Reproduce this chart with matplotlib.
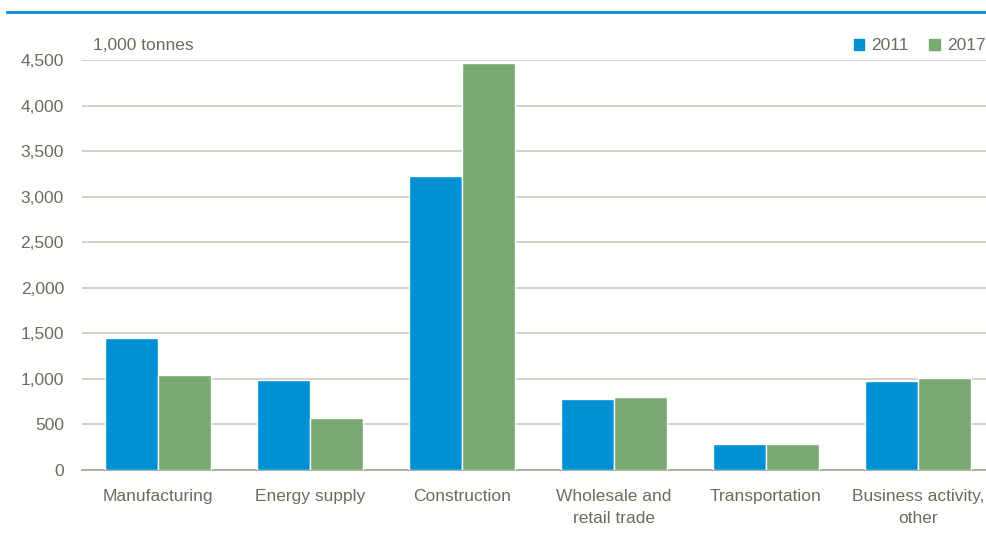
import matplotlib.pyplot as plt
import matplotlib.lines as mlines
import matplotlib.patches as mpatches
import numpy as np

# Waste generated by activity, 1,000 tonnes
categories = ['Manufacturing', 'Energy supply', 'Construction',
              'Wholesale and\nretail trade', 'Transportation', 'Business activity,\nother']
years = ['2011', '2017']
values_2011 = [1445, 990, 3230, 780, 290, 975]
values_2017 = [1045, 575, 4470, 800, 290, 1010]
y_ticks = [0, 500, 1000, 1500, 2000, 2500, 3000, 3500, 4000, 4500]

blue = '#0090D4'
green = '#77A970'
text_col = '#6B6B5E'

plt.rcParams['font.family'] = ['Liberation Sans', 'DejaVu Sans']

fig = plt.figure(figsize=(9.87, 5.41), dpi=100)
ax = fig.add_axes([82 / 987, 71 / 541, 912 / 987, 410 / 541])

x = np.arange(len(categories))
w = 0.35
ax.bar(x - w / 2, values_2011, w, color=blue, edgecolor='white', linewidth=1, zorder=3)
ax.bar(x + w / 2, values_2017, w, color=green, edgecolor='white', linewidth=1, zorder=3)

ax.set_xlim(-0.5, len(categories) - 0.5)
ax.set_ylim(0, 4500)
ax.set_yticks(y_ticks)
ax.set_yticklabels([f'{v:,}' for v in y_ticks])
ax.set_xticks(x)
ax.set_xticklabels(categories, linespacing=1.55)
ax.yaxis.grid(True, color='#C9C9BF', linewidth=1.2, zorder=0)
ax.set_axisbelow(True)
for side in ['top', 'right', 'left']:
    ax.spines[side].set_visible(False)
ax.spines['bottom'].set_color('#A3A394')
ax.spines['bottom'].set_linewidth(1.2)
ax.tick_params(axis='both', length=0, labelsize=12.5, colors=text_col)
ax.tick_params(axis='y', pad=13)
ax.tick_params(axis='x', pad=14)

ax.text(93 / 987, 1 - 46 / 541, '1,000 tonnes', transform=fig.transFigure, fontsize=12.5,
        color=text_col, va='center', ha='left')

handles = [mpatches.Patch(color=blue, label=years[0]),
           mpatches.Patch(color=green, label=years[1])]
fig.legend(handles=handles, loc='center right', bbox_to_anchor=(1.0, 1 - 46 / 541),
           ncol=2, frameon=False, fontsize=12.5, labelcolor=text_col,
           handlelength=0.6, handleheight=0.6, handletextpad=0.4, columnspacing=1.2,
           borderaxespad=0, borderpad=0.1)

# header rule
fig.add_artist(mlines.Line2D([7 / 987, 1.0], [1 - 12 / 541, 1 - 12 / 541],
                             color=blue, linewidth=2, transform=fig.transFigure))

fig.savefig('out.png', dpi=100)
